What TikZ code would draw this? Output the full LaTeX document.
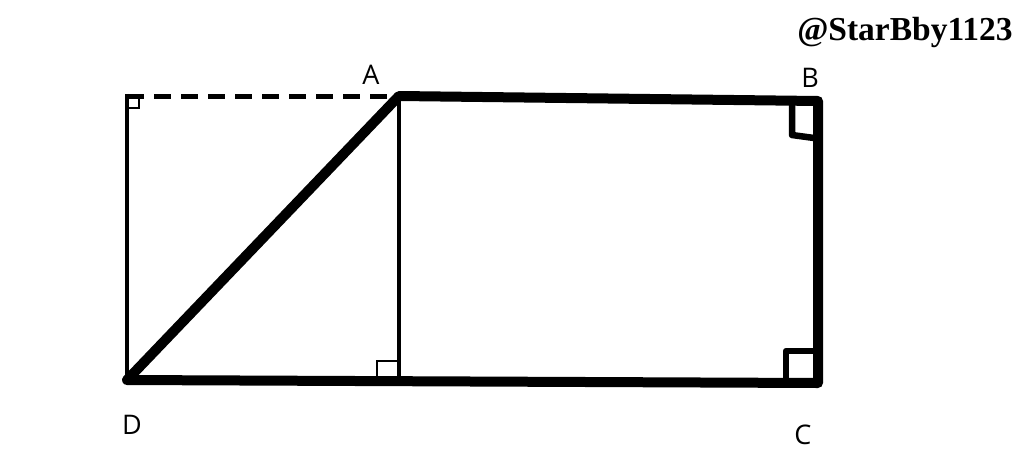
\documentclass[tikz,border=0pt]{standalone}
\usepackage{fontspec}
\setmainfont{Liberation Serif}
\newfontfamily\labelfont{Open Sans}
\usetikzlibrary{positioning}

\begin{document}
\begin{tikzpicture}
[x=1pt,y=-1pt,%
  thinline/.style={line width=4.2pt,line cap=butt},%
  thickline/.style={line width=10pt,line cap=round,line join=round},%
  dashline/.style={line width=5pt,dash pattern=on 17pt off 10pt},%
  marksmall/.style={line width=2.8pt},%
  markbig/.style={line width=6.5pt,line cap=round,line join=round},%
  ptlabel/.style={font=\labelfont\fontsize{27}{27}\selectfont,inner sep=0pt}]
\useasboundingbox (0,0) rectangle (1024,456);
%% points
\foreach \pointname/\x/\y in {A/399/96, B/818/101, C/818/383, D/127/380,
  E/127/96, F/399/380}
{
  \coordinate (\pointname) at (\x,\y);
}
%% labels
\foreach \pointname/\x/\y in {A/371/75, B/810/78, C/803/435, D/132/425}
{
  \node (lab\pointname) at (\x,\y) [ptlabel] {\pointname};
}
\node (sign) at (905,32) [font=\bfseries\fontsize{33.5}{33.5}\selectfont,inner sep=0pt] {@StarBby1123};
%% thin lines
\draw[dashline] (E) -- (A);
\draw[thinline] ([shift={(0,-2.1)}]E) -- (D);
\draw[thinline] (A) -- (F);
%% thick lines
\draw[thickline] (A) -- (B) -- (C) -- (D) -- cycle;
%% right angle marks
\draw[marksmall] ([shift={(1,12)}]E) -| ([shift={(12,1)}]E);
\draw[marksmall] ([shift={(-2,-19)}]F) -| ([shift={(-22,-4)}]F);
\draw[markbig] ([shift={(-26,4)}]B) -- ([shift={(-26,34)}]B) -- ([shift={(-4,37)}]B);
\draw[markbig] ([shift={(-4,-32)}]C) -- ([shift={(-32,-32)}]C) -- ([shift={(-32,-4)}]C);
\end{tikzpicture}
\end{document}
